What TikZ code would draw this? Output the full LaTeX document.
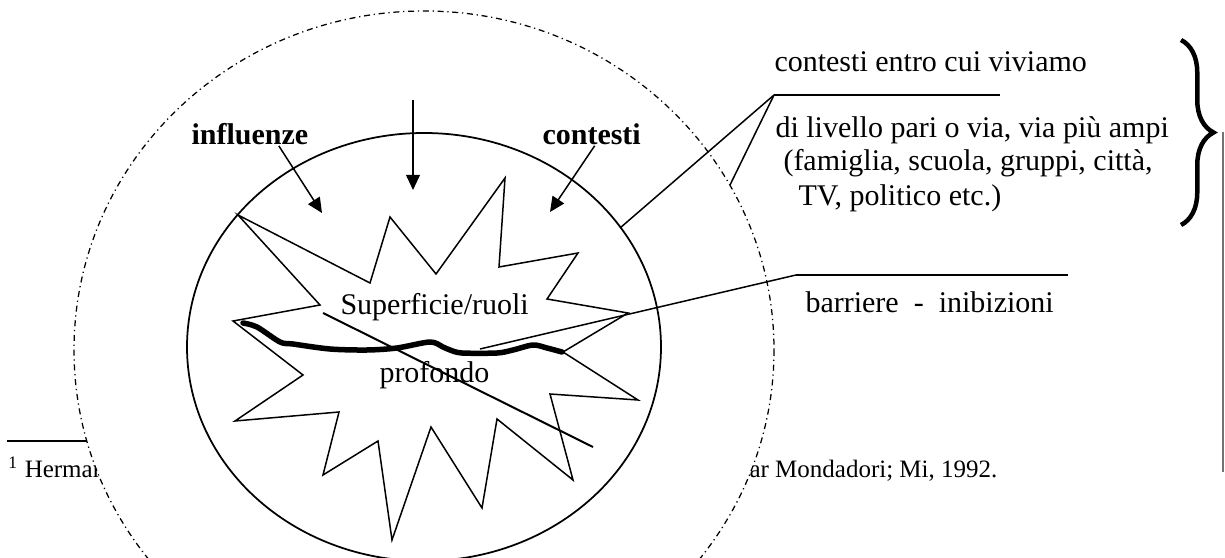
\documentclass[tikz,border=0pt]{standalone}
\usepackage{fontspec}
\setmainfont{Liberation Serif}
\usetikzlibrary{arrows.meta, decorations.pathreplacing}
\tikzstyle{txt}=[anchor=base west, inner sep=0, font=\fontsize{12}{14}\selectfont]
\tikzstyle{boldtxt}=[txt, font=\fontsize{12}{14}\selectfont\bfseries]
\tikzstyle{foot}=[anchor=base west, inner sep=0, font=\fontsize{10}{12}\selectfont]
\tikzstyle{arrow}=[line width=0.6pt,-{Triangle[length=6pt,width=5.5pt]}]
\tikzstyle{pointer}=[line width=0.6pt]
\tikzstyle{rule}=[line width=0.8pt]
\tikzstyle{dashdot}=[line width=0.5pt, dash pattern=on 2.4pt off 1.5pt on 0.5pt off 1.5pt]

\begin{document}
\begin{tikzpicture}[x=0.4pt,y=-0.4pt]
\useasboundingbox (0,0) rectangle (1225,558);

% footnote, partly hidden by the outer circle
\draw[rule] (7,441)--(88,441);
\node[foot] (fnleft) at (8,478) {\textsuperscript{1} Herman};
\node[foot] (fnright) at (749,478) {ar Mondadori; Mi, 1992.};

\draw[dashdot,fill=white] (424,350) ellipse [x radius=350, y radius=339];
\draw[line width=0.7pt] (424,347) ellipse [x radius=237, y radius=214];

\draw[line width=0.6pt,line join=miter] (238,215)--(370,283)--(390,217)--(436,274)--(505,178)--(499,267)
	--(578,253)--(547,299)--(628,313)--(563,352)--(638,400)--(550,394)--(573,480)--(497,419)
	--(482,508)--(431,427)--(392,540)--(378,441)--(323,475)--(339,412)--(235,421)--(303,375)
	--(233,321)--(320,305)--cycle;

\draw[line width=2.2pt,line cap=round,line join=round] plot[smooth,tension=0.5] coordinates
	{(243,323) (257,327) (280,342) (293,344) (330,349) (367,350) (397,348) (430,342) (443,347)
	(450,350) (462,353) (497,353) (513,350) (533,345) (547,348) (562,352)};
\draw[line width=0.8pt] (323,313)--(593,447);

\node[boldtxt] (influenze) at (191,145) {influenze};
\node[boldtxt] (contesti) at (542,145) {contesti};
\node[txt] (surface) at (340,315) {Superficie/ruoli};
\node[txt] (deep) at (379,383) {profondo};

\coordinate (topA) at (413,100);
\coordinate (tipL) at (322,213);
\coordinate (tipM) at (413,190);
\coordinate (tipR) at (550,212);
\draw[arrow] (influenze.south)++(29,0) -- (tipL);
\draw[arrow] (topA) -- (tipM);
\draw[arrow] (contesti.south)++(3,0) -- (tipR);

\node[txt] (ctxtitle) at (774,72) {contesti entro cui viviamo};
\node[txt] (ctxone) at (775,138) {di livello pari o via, via più ampi};
\node[txt] (ctxtwo) at (783,171) {(famiglia, scuola, gruppi, città,};
\node[txt] (ctxthree) at (798,206) {TV, politico etc.)};
\coordinate (ctxA) at (774,95);
\coordinate (ctxB) at (1000,95);
\draw[rule] (ctxA)--(ctxB);
\draw[pointer] (ctxA)--(620,228);
\draw[pointer] (ctxA)--(730,185);

\node[txt] (barrier) at (805,313) {barriere\ \ -\ \ inibizioni};
\coordinate (barA) at (796,275);
\coordinate (barB) at (1068,275);
\draw[rule] (barA)--(barB);
\draw[pointer] (barA)--(480,349);

\draw[line width=1.8pt,decorate,decoration={brace,amplitude=13pt}] (1181,40)--(1181,225);
\draw[black!55,line width=0.6pt] (1223,132)--(1223,472);
\end{tikzpicture}
\end{document}
